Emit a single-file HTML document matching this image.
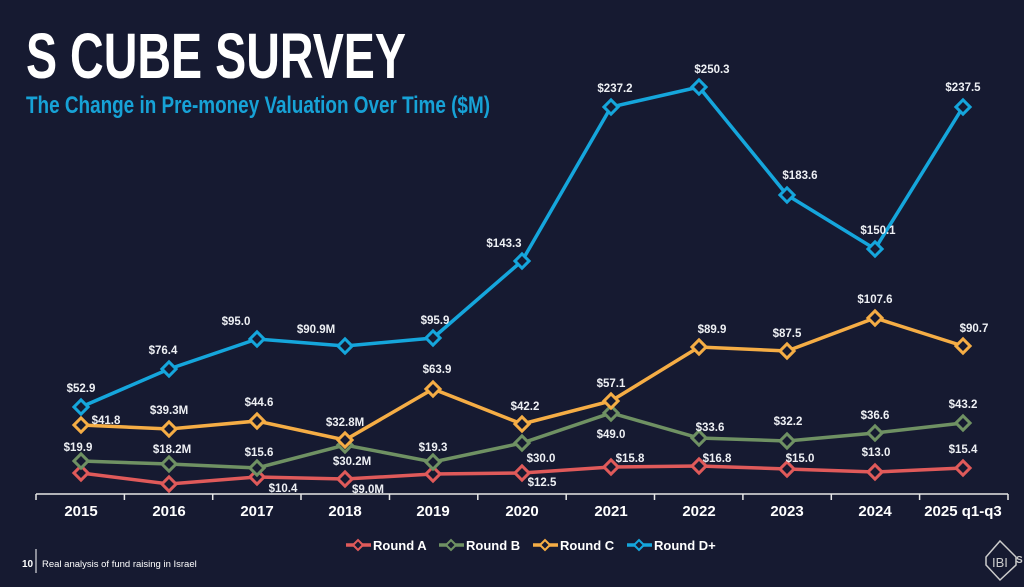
<!DOCTYPE html>
<html><head><meta charset="utf-8"><style>
html,body{margin:0;padding:0;background:#161a31;}
svg{display:block;font-family:"Liberation Sans Narrow","Liberation Sans",sans-serif;font-weight:bold;}
</style></head><body>
<svg width="1024" height="587" viewBox="0 0 1024 587" xmlns="http://www.w3.org/2000/svg">
<rect width="1024" height="587" fill="#161a31"/>
<text x="26" y="78" fill="#fff" font-size="64" textLength="380" lengthAdjust="spacingAndGlyphs">S CUBE SURVEY</text>
<text x="26" y="113" fill="#17a2d6" font-size="24" textLength="464" lengthAdjust="spacingAndGlyphs">The Change in Pre-money Valuation Over Time ($M)</text>

<!-- axis -->
<g stroke="#e6e6e6" stroke-width="1.5">
<line x1="36" y1="494" x2="1008" y2="494"/>
<line x1="36" y1="494" x2="36" y2="500"/><line x1="124.4" y1="494" x2="124.4" y2="500"/><line x1="212.7" y1="494" x2="212.7" y2="500"/><line x1="301" y1="494" x2="301" y2="500"/><line x1="389.5" y1="494" x2="389.5" y2="500"/><line x1="477.8" y1="494" x2="477.8" y2="500"/><line x1="566.2" y1="494" x2="566.2" y2="500"/><line x1="654.5" y1="494" x2="654.5" y2="500"/><line x1="742.9" y1="494" x2="742.9" y2="500"/><line x1="831.3" y1="494" x2="831.3" y2="500"/><line x1="919.6" y1="494" x2="919.6" y2="500"/><line x1="1008" y1="494" x2="1008" y2="500"/>
</g>
<g fill="#fff" font-size="15" text-anchor="middle">
<text x="81" y="516">2015</text><text x="169" y="516">2016</text><text x="257" y="516">2017</text><text x="345" y="516">2018</text><text x="433" y="516">2019</text><text x="522" y="516">2020</text><text x="611" y="516">2021</text><text x="699" y="516">2022</text><text x="787" y="516">2023</text><text x="875" y="516">2024</text><text x="963" y="516">2025 q1-q3</text>
</g>

<defs>
<g id="d"><rect x="-5" y="-5" width="10" height="10" transform="rotate(45)" fill="#161a31" stroke-width="3"/></g>
</defs>

<!-- Round A -->
<g stroke="#e05a5a" stroke-width="3.5" fill="none">
<polyline points="81,473 169,484 257,477 345,479 433,474 522,473 611,467 699,466 787,469 875,472 963,468"/>
<g stroke="#e05a5a"><use href="#d" x="81" y="473"/><use href="#d" x="169" y="484"/><use href="#d" x="257" y="477"/><use href="#d" x="345" y="479"/><use href="#d" x="433" y="474"/><use href="#d" x="522" y="473"/><use href="#d" x="611" y="467"/><use href="#d" x="699" y="466"/><use href="#d" x="787" y="469"/><use href="#d" x="875" y="472"/><use href="#d" x="963" y="468"/></g>
</g>
<!-- Round B -->
<g stroke="#6f9163" stroke-width="3.5" fill="none">
<polyline points="81,461 169,464 257,468 345,445 433,462 522,443 611,413 699,438 787,441 875,433 963,423"/>
<use href="#d" x="81" y="461"/><use href="#d" x="169" y="464"/><use href="#d" x="257" y="468"/><use href="#d" x="345" y="445"/><use href="#d" x="433" y="462"/><use href="#d" x="522" y="443"/><use href="#d" x="611" y="413"/><use href="#d" x="699" y="438"/><use href="#d" x="787" y="441"/><use href="#d" x="875" y="433"/><use href="#d" x="963" y="423"/>
</g>
<!-- Round C -->
<g stroke="#f5ad45" stroke-width="3.5" fill="none">
<polyline points="81,425 169,429 257,421 345,440 433,389 522,424 611,401 699,347 787,351 875,318 963,346"/>
<use href="#d" x="81" y="425"/><use href="#d" x="169" y="429"/><use href="#d" x="257" y="421"/><use href="#d" x="345" y="440"/><use href="#d" x="433" y="389"/><use href="#d" x="522" y="424"/><use href="#d" x="611" y="401"/><use href="#d" x="699" y="347"/><use href="#d" x="787" y="351"/><use href="#d" x="875" y="318"/><use href="#d" x="963" y="346"/>
</g>
<!-- Round D+ -->
<g stroke="#15a6dc" stroke-width="3.5" fill="none">
<polyline points="81,407 169,369 257,339 345,346 433,338 522,261 611,107 699,87 787,195 875,249 963,107"/>
<use href="#d" x="81" y="407"/><use href="#d" x="169" y="369"/><use href="#d" x="257" y="339"/><use href="#d" x="345" y="346"/><use href="#d" x="433" y="338"/><use href="#d" x="522" y="261"/><use href="#d" x="611" y="107"/><use href="#d" x="699" y="87"/><use href="#d" x="787" y="195"/><use href="#d" x="875" y="249"/><use href="#d" x="963" y="107"/>
</g>

<g fill="#eef0f4" font-size="11.5" text-anchor="middle">
<!-- D+ -->
<text x="81" y="392">$52.9</text><text x="163" y="354">$76.4</text><text x="236" y="325">$95.0</text><text x="316" y="333">$90.9M</text><text x="435" y="324">$95.9</text><text x="504" y="247">$143.3</text><text x="615" y="92">$237.2</text><text x="712" y="73">$250.3</text><text x="800" y="179">$183.6</text><text x="878" y="234">$150.1</text><text x="963" y="91">$237.5</text>
<!-- C -->
<text x="106" y="424">$41.8</text><text x="169" y="414">$39.3M</text><text x="259" y="406">$44.6</text><text x="345" y="426">$32.8M</text><text x="437" y="373">$63.9</text><text x="525" y="410">$42.2</text><text x="611" y="387">$57.1</text><text x="712" y="333">$89.9</text><text x="787" y="337">$87.5</text><text x="875" y="303">$107.6</text><text x="974" y="332">$90.7</text>
<!-- B -->
<text x="78" y="451">$19.9</text><text x="172" y="453">$18.2M</text><text x="259" y="456">$15.6</text><text x="352" y="465">$30.2M</text><text x="433" y="451">$19.3</text><text x="541" y="462">$30.0</text><text x="611" y="438">$49.0</text><text x="710" y="431">$33.6</text><text x="788" y="425">$32.2</text><text x="875" y="419">$36.6</text><text x="963" y="408">$43.2</text>
<!-- A -->
<text x="283" y="492">$10.4</text><text x="368" y="493">$9.0M</text><text x="542" y="486">$12.5</text><text x="630" y="462">$15.8</text><text x="717" y="462">$16.8</text><text x="800" y="462">$15.0</text><text x="876" y="456">$13.0</text><text x="963" y="453">$15.4</text>
</g>

<!-- legend -->
<g stroke-width="3.5" fill="none">
<line x1="346" y1="545" x2="371" y2="545" stroke="#e05a5a"/><use href="#d" x="358" y="545" stroke="#e05a5a" transform="translate(358 545) scale(.7) translate(-358 -545)"/>
<line x1="439" y1="545" x2="464" y2="545" stroke="#6f9163"/><use href="#d" x="451" y="545" stroke="#6f9163" transform="translate(451 545) scale(.7) translate(-451 -545)"/>
<line x1="533" y1="545" x2="558" y2="545" stroke="#f5ad45"/><use href="#d" x="545" y="545" stroke="#f5ad45" transform="translate(545 545) scale(.7) translate(-545 -545)"/>
<line x1="627" y1="545" x2="652" y2="545" stroke="#15a6dc"/><use href="#d" x="639" y="545" stroke="#15a6dc" transform="translate(639 545) scale(.7) translate(-639 -545)"/>
</g>
<g fill="#fff" font-size="13">
<text x="373" y="550">Round A</text><text x="466" y="550">Round B</text><text x="560" y="550">Round C</text><text x="654" y="550">Round D+</text>
</g>

<!-- footer -->
<text x="22" y="567" fill="#fff" font-size="10">10</text>
<line x1="36" y1="549" x2="36" y2="573" stroke="#fff" stroke-width="1"/>
<text x="42" y="567" fill="#fff" font-size="9.5" font-weight="normal">Real analysis of fund raising in Israel</text>
<g stroke="#ccc" stroke-width="1.5" fill="none">
<polygon points="1000,541 1016,557 1016,565 1000,580 986,565 986,557"/>
</g>
<text x="992" y="567" fill="#ccc" font-size="13" font-weight="normal">IBI</text>
<text x="1016" y="563" fill="#ccc" font-size="10">S</text>
</svg>
</body></html>
